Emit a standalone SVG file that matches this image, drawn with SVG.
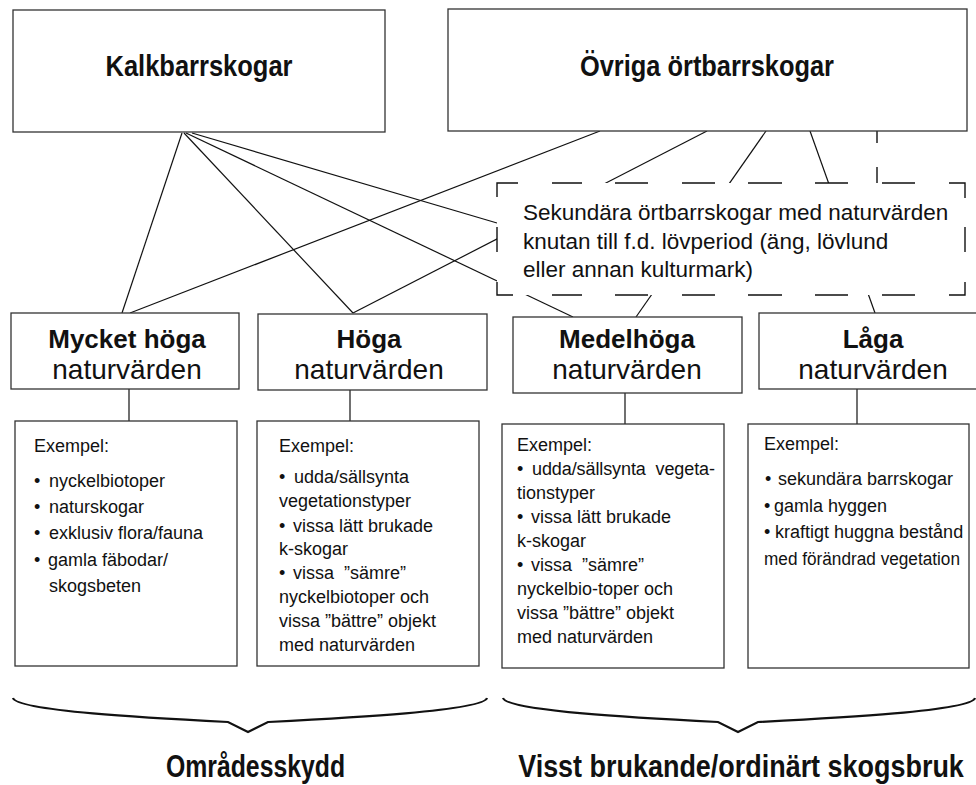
<svg xmlns="http://www.w3.org/2000/svg" width="976" height="785" viewBox="0 0 976 785">
<style>
.box{fill:#fff;stroke:#333;stroke-width:1.3}
.ln{stroke:#111;stroke-width:1.2;fill:none}
.dash{stroke:#111;stroke-width:1.4;fill:none}
.brace{stroke:#111;stroke-width:2.2;fill:none;stroke-linejoin:miter}
text{font-family:"Liberation Sans",Arial,sans-serif;fill:#111}
.t18{font-size:18px}
.sec{font-size:22.5px}
.vb{font-size:26px;font-weight:bold;text-anchor:middle}
.vr{font-size:28px;text-anchor:middle}
.title{font-size:29px;font-weight:bold;text-anchor:middle}
.foot{font-size:32px;font-weight:bold;text-anchor:middle}
</style>
<rect width="976" height="785" fill="#fff"/>
<g id="connectors">
<line class="ln" x1="182" y1="133" x2="122" y2="313"/>
<line class="ln" x1="184" y1="133" x2="353" y2="313"/>
<line class="ln" x1="186" y1="133" x2="573" y2="317"/>
<line class="ln" x1="192" y1="133" x2="497" y2="223"/>
<line class="ln" x1="600" y1="131" x2="130" y2="313"/>
<line class="ln" x1="707" y1="131" x2="353" y2="313"/>
<line class="ln" x1="766" y1="131" x2="636" y2="317"/>
<line class="ln" x1="810" y1="131" x2="875" y2="313"/>
<path class="dash" d="M877 131V143M877 167V183"/>
<line class="ln" x1="129" y1="389" x2="129" y2="421"/>
<line class="ln" x1="350" y1="390" x2="350" y2="421"/>
<line class="ln" x1="625" y1="393" x2="625" y2="424"/>
<line class="ln" x1="857" y1="389" x2="857" y2="424"/>
</g>
<g id="kalkbarrskogar">
<rect class="box" x="13" y="10" width="372" height="122"/>
<text class="title" x="199" y="76" textLength="187" lengthAdjust="spacingAndGlyphs">Kalkbarrskogar</text>
</g>
<g id="ovriga">
<rect class="box" x="448" y="9" width="519" height="122"/>
<text class="title" x="707" y="76" textLength="254" lengthAdjust="spacingAndGlyphs">Övriga örtbarrskogar</text>
</g>
<g id="sekundara">
<rect x="497" y="183" width="468" height="112" fill="#fff" stroke="none"/>
<path class="dash" d="M497 197V183H518M552 183H582M615 183H648M682 183H715M748 183H782M815 183H848M882 183H915M949 183H965V198M965 227V252M965 282V295H949M915 295H882M848 295H815M782 295H748M715 295H682M648 295H615M582 295H552M513 295H497V282M497 252V227"/>
<text class="sec" x="523" y="220">Sekundära örtbarrskogar med naturvärden</text>
<text class="sec" x="523" y="248.5">knutan till f.d. lövperiod (äng, lövlund</text>
<text class="sec" x="523" y="277">eller annan kulturmark)</text>
</g>
<g id="mycket-hoga">
<rect class="box" x="11" y="313" width="228" height="76"/>
<text class="vb" x="127" y="348">Mycket höga</text>
<text class="vr" x="127" y="379">naturvärden</text>
</g>
<g id="hoga">
<rect class="box" x="258" y="314" width="229" height="76"/>
<text class="vb" x="369" y="348">Höga</text>
<text class="vr" x="369" y="379">naturvärden</text>
</g>
<g id="medelhoga">
<rect class="box" x="513" y="317" width="229" height="76"/>
<text class="vb" x="627" y="348">Medelhöga</text>
<text class="vr" x="627" y="379">naturvärden</text>
</g>
<g id="laga">
<rect class="box" x="759" y="313" width="240" height="76"/>
<text class="vb" x="873" y="348">Låga</text>
<text class="vr" x="873" y="379">naturvärden</text>
</g>
<g id="exempel-1">
<rect class="box" x="15" y="421" width="222" height="245"/>
<text class="t18" x="34" y="452">Exempel:</text>
<text class="t18" x="34" y="487">•<tspan x="49">nyckelbiotoper</tspan></text>
<text class="t18" x="34" y="513">•<tspan x="49">naturskogar</tspan></text>
<text class="t18" x="34" y="539">•<tspan x="49">exklusiv flora/fauna</tspan></text>
<text class="t18" x="34" y="566">•<tspan x="48">gamla fäbodar/</tspan></text>
<text class="t18" x="49" y="592">skogsbeten</text>
</g>
<g id="exempel-2">
<rect class="box" x="257" y="421" width="222" height="245"/>
<text class="t18" x="279" y="452">Exempel:</text>
<text class="t18" x="279" y="483">•<tspan x="294">udda/sällsynta</tspan></text>
<text class="t18" x="279" y="507">vegetationstyper</text>
<text class="t18" x="279" y="532">•<tspan x="293">vissa lätt brukade</tspan></text>
<text class="t18" x="279" y="555">k-skogar</text>
<text class="t18" x="279" y="579">•<tspan x="293">vissa&#160; ”sämre”</tspan></text>
<text class="t18" x="279" y="603">nyckelbiotoper och</text>
<text class="t18" x="279" y="627">vissa ”bättre” objekt</text>
<text class="t18" x="279" y="651">med naturvärden</text>
</g>
<g id="exempel-3">
<rect class="box" x="502" y="424" width="222" height="244"/>
<text class="t18" x="517" y="451">Exempel:</text>
<text class="t18" x="517" y="475">•<tspan x="532" textLength="183" lengthAdjust="spacing">udda/sällsynta&#160; vegeta-</tspan></text>
<text class="t18" x="517" y="499">tionstyper</text>
<text class="t18" x="517" y="523">•<tspan x="531">vissa lätt brukade</tspan></text>
<text class="t18" x="517" y="547">k-skogar</text>
<text class="t18" x="517" y="571">•<tspan x="531">vissa&#160; ”sämre”</tspan></text>
<text class="t18" x="517" y="595">nyckelbio-toper och</text>
<text class="t18" x="517" y="619">vissa ”bättre” objekt</text>
<text class="t18" x="517" y="643">med naturvärden</text>
</g>
<g id="exempel-4">
<rect class="box" x="748" y="424" width="221" height="244"/>
<text class="t18" x="764" y="450">Exempel:</text>
<text class="t18" x="765" y="485">•<tspan x="778">sekundära barrskogar</tspan></text>
<text class="t18" x="764" y="512">•<tspan x="774">gamla hyggen</tspan></text>
<text class="t18" x="764" y="538">•<tspan x="775">kraftigt huggna bestånd</tspan></text>
<text class="t18" x="764" y="565" textLength="196" lengthAdjust="spacingAndGlyphs">med förändrad vegetation</text>
</g>
<g id="omradesskydd">
<path class="brace" d="M13 698C17 711 150 718 228 722L248 732L268 722C346 718 483 711 487 698"/>
<text class="foot" transform="translate(255.5 777) scale(0.775 1)" x="0" y="0">Områdesskydd</text>
</g>
<g id="skogsbruk">
<path class="brace" d="M503 698C507 711 640 718 718 722L738 732L758 722C836 718 971 711 975 698"/>
<text class="foot" transform="translate(741 777) scale(0.842 1)" x="0" y="0">Visst brukande/ordinärt skogsbruk</text>
</g>
</svg>
